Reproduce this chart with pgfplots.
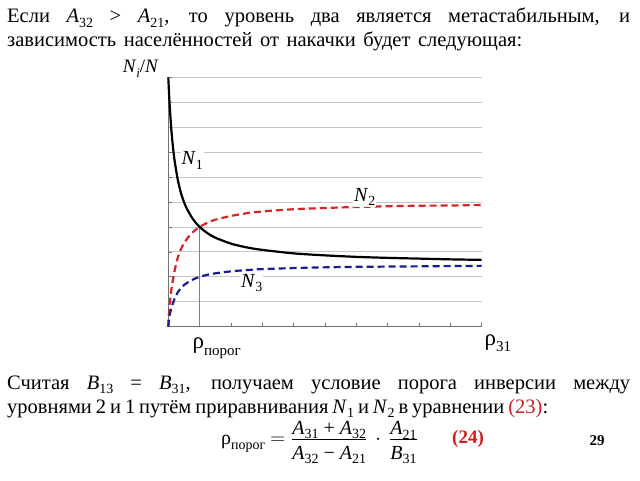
\documentclass[border=0pt]{standalone}
\usepackage{pgfplots}
\pgfplotsset{compat=1.18}
\usepackage{fontspec}
\setmainfont{Liberation Serif}
\definecolor{redd}{RGB}{212,38,38}
\definecolor{blued}{RGB}{28,28,150}
\definecolor{eqred}{RGB}{205,30,30}
\newcommand\sub[1]{\raisebox{-4.5pt}{\fontsize{14}{14}\selectfont #1}}
\newcommand\fsub[1]{\raisebox{-4.5pt}{\fontsize{14}{14}\selectfont #1}}
\begin{document}
\begin{tikzpicture}[x=1pt,y=1pt]
\useasboundingbox (0,0) rectangle (640,480);
\fill[white] (0,0) rectangle (640,480);
% top text
\node[anchor=base west, inner sep=0, font=\fontsize{20.5}{24}\selectfont] at (7,457.3)
  {\makebox[623pt][s]{Если \textit{A}\sub{32} > \textit{A}\sub{21}, то уровень два является метастабильным, и}};
\node[anchor=base west, inner sep=0, font=\fontsize{20.5}{24}\selectfont] at (7,433.3)
  {\makebox[515pt][s]{зависимость населённостей от накачки будет следующая:}};
% bottom text
\node[anchor=base west, inner sep=0, font=\fontsize{20.5}{24}\selectfont] at (7,90.7)
  {\makebox[623pt][s]{Считая \textit{B}\sub{13} = \textit{B}\sub{31}, получаем условие порога инверсии между}};
\node[anchor=base west, inner sep=0, font=\fontsize{20.5}{24}\selectfont] at (7,67)
  {\makebox[541pt][s]{уровнями 2 и 1 путём приравнивания \textit{N}\sub{1} и \textit{N}\sub{2} в уравнении \textcolor{eqred}{(23)}:}};
% formula
\node[anchor=west, inner sep=0, font=\fontsize{20}{22}\selectfont] at (221,37.5)
  {ρ\fsub{порог} $=\frac{\mbox{\rule[-4.5pt]{0pt}{4.5pt}\textit{A}\fsub{31} + \textit{A}\fsub{32}}}{\mbox{\rule{0pt}{19pt}\textit{A}\fsub{32} − \textit{A}\fsub{21}}}\,\cdot\,\frac{\mbox{\rule[-4.5pt]{0pt}{4.5pt}\textit{A}\fsub{21}}}{\mbox{\rule{0pt}{19pt}\textit{B}\fsub{31}}}$};
\node[text=eqred, font=\bfseries\fontsize{19}{19}\selectfont] at (468,41) {(24)};
\node[font=\bfseries\fontsize{15}{15}\selectfont] at (597,39) {29};
% chart
\begin{axis}[at={(168.3pt,153.3pt)}, anchor=south west, scale only axis,
  width=313.4pt, height=249.4pt,
  xmin=0, xmax=10, ymin=0, ymax=10,
  axis x line=bottom, axis y line=left,
  axis line style={-, draw=black!55, line width=0.8pt},
  xtick={0,...,10}, ytick={0,...,10},
  xticklabels={}, yticklabels={},
  tick align=inside, major tick length=4pt,
  tick style={black!55, line width=0.7pt},
  ymajorgrids, grid style={black!22, line width=0.8pt},
  clip=false]
\addplot[black!50, line width=1pt] coordinates {(1,0) (1,4)};
\addplot[black, line width=2.2pt, smooth] coordinates {
(0,10) (0.02,9.44) (0.05,8.75) (0.1,7.86) (0.15,7.19) (0.2,6.67) (0.3,5.91) (0.4,5.38) (0.5,5.0) (0.6,4.71) (0.8,4.29) (1,4.0) (1.25,3.75) (1.5,3.57) (2,3.33) (2.5,3.18) (3,3.08) (4,2.94) (5,2.86) (6,2.80) (7,2.76) (8,2.73) (9,2.70) (10,2.68)};
\addplot[redd, line width=2.2pt, dash pattern=on 7pt off 4pt, smooth] coordinates {
(0,0) (0.02,0.55) (0.05,1.0) (0.1,1.50) (0.15,1.90) (0.2,2.24) (0.3,2.76) (0.4,3.10) (0.5,3.34) (0.6,3.53) (0.8,3.81) (1,4.0) (1.25,4.17) (1.5,4.29) (2,4.44) (2.5,4.55) (3,4.62) (4,4.71) (5,4.76) (6,4.80) (7,4.83) (8,4.85) (9,4.86) (10,4.88)};
\addplot[blued, line width=2.2pt, dash pattern=on 7pt off 4pt, smooth] coordinates {
(0,0) (0.02,0.30) (0.05,0.50) (0.1,0.75) (0.15,0.95) (0.2,1.12) (0.3,1.37) (0.4,1.54) (0.5,1.67) (0.6,1.76) (0.8,1.90) (1,2.0) (1.25,2.08) (1.5,2.14) (2,2.22) (2.5,2.27) (3,2.31) (4,2.35) (5,2.38) (6,2.40) (7,2.41) (8,2.42) (9,2.43) (10,2.44)};
\end{axis}
% chart labels
\node[anchor=base east, inner sep=0, font=\fontsize{19}{19}\selectfont] at (159,407) {\textit{N}\raisebox{-4.5pt}{\fontsize{13}{13}\selectfont\textit{i}}/\textit{N}};
\node[anchor=base west, inner sep=1pt, fill=white, font=\fontsize{20}{20}\selectfont] at (180.5,315) {\textit{N}\sub{1}};
\node[anchor=base west, inner sep=1pt, fill=white, font=\fontsize{20}{20}\selectfont] at (353,278.5) {\textit{N}\sub{2}};
\node[anchor=base west, inner sep=1pt, fill=white, font=\fontsize{20}{20}\selectfont] at (240,193) {\textit{N}\sub{3}};
\node[anchor=base west, inner sep=0, font=\fontsize{23}{23}\selectfont] at (192.5,132) {ρ\raisebox{-7pt}{\fontsize{15}{15}\selectfont порог}};
\node[anchor=base west, inner sep=0, font=\fontsize{23}{23}\selectfont] at (484.5,135) {ρ\raisebox{-6pt}{\fontsize{15}{15}\selectfont 31}};
\end{tikzpicture}
\end{document}
